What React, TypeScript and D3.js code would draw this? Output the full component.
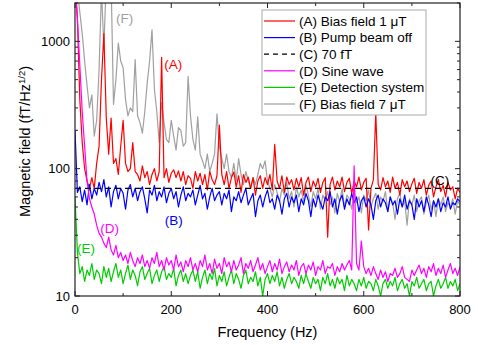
import React from 'react';
import * as d3 from 'd3';

// frequency grid (Hz), 5 Hz bins
const freqs = d3.range(0, 801, 5);

// (A) Bias field 1 uT
const seriesA = [
  3000, 1500, 350, 160, 100, 80, 70, 85, 70, 110, 150, 500, 1150, 250, 130, 250, 110, 120, 90, 150,
  240, 110, 95, 100, 160, 95, 90, 80, 105, 85, 95, 75, 90, 100, 80, 95, 750, 85, 100, 78,
  92, 98, 85, 96, 80, 95, 75, 88, 84, 70, 95, 80, 92, 75, 90, 68, 95, 82, 75, 88,
  220, 90, 75, 95, 70, 85, 94, 72, 88, 65, 90, 78, 86, 70, 85, 62, 80, 88, 70, 85,
  75, 90, 68, 155, 80, 70, 88, 65, 86, 75, 82, 68, 84, 72, 85, 62, 78, 86, 66, 80,
  72, 84, 65, 78, 85, 29, 75, 86, 68, 80, 72, 86, 66, 78, 84, 64, 80, 72, 86, 68,
  78, 84, 33, 70, 82, 275, 75, 68, 85, 72, 80, 65, 86, 70, 78, 62, 82, 72, 80, 66,
  76, 84, 64, 78, 70, 82, 62, 74, 80, 60, 72, 82, 66, 74, 60, 78, 68, 72, 58, 70,
  65,
];

// (B) Pump beam off
const seriesB = [
  200, 65, 72, 55, 68, 52, 75, 58, 70, 62, 78, 66, 82, 60, 72, 50, 66, 74, 58, 70,
  64, 48, 68, 75, 60, 70, 56, 66, 72, 58, 45, 68, 62, 74, 56, 66, 60, 72, 54, 64,
  70, 58, 66, 50, 62, 72, 56, 64, 60, 68, 52, 62, 74, 58, 64, 48, 60, 70, 56, 62,
  66, 52, 64, 58, 68, 46, 60, 56, 66, 54, 62, 70, 52, 58, 64, 42, 56, 62, 50, 60,
  68, 54, 58, 48, 62, 56, 44, 58, 64, 50, 60, 54, 62, 46, 58, 52, 64, 56, 42, 58,
  50, 62, 54, 48, 60, 56, 66, 50, 58, 44, 56, 62, 48, 58, 52, 64, 54, 60, 46, 56,
  60, 50, 58, 52, 40, 56, 62, 50, 58, 54, 46, 60, 52, 56, 44, 58, 50, 62, 48, 56,
  52, 40, 58, 50, 56, 46, 60, 52, 42, 56, 50, 58, 46, 54, 50, 60, 48, 54, 52, 58,
  55,
];

// (C) 70 fT reference level
const levelC = 70;

// (D) Sine wave
const seriesD = [
  3000, 1500, 650, 280, 150, 80, 58, 50, 44, 36, 31, 29, 26, 24, 29, 23, 21, 25, 20, 22,
  19, 21, 18, 22, 19, 17, 20, 18, 21, 17, 19, 16.5, 20, 18, 22, 17, 19, 16, 20, 17.5,
  19, 16, 21, 17, 18.5, 15.5, 19, 17, 20, 16, 18, 15.5, 19, 17, 21, 16, 18, 15, 19.5, 16.5,
  18, 15, 20, 17, 18.5, 15.5, 19, 16, 17.5, 20, 15, 18, 16.5, 19, 15.5, 17.5, 20, 16, 18, 15,
  17, 19, 15.5, 18, 16, 19.5, 15, 17, 18.5, 15.5, 17.5, 16, 19, 14.5, 17, 18, 15, 17.5, 16, 18.5,
  14.5, 17, 16, 19, 15, 17, 16.5, 18, 14.5, 17, 15.5, 18, 16, 17.5, 19, 16, 105, 18, 16, 27,
  17, 15, 16.5, 14.5, 17, 15, 13.5, 16, 14, 15.5, 13, 15, 14.5, 16.5, 14, 15, 17, 14, 13.5, 13,
  16, 14.5, 16, 17.5, 15, 16.5, 14, 17, 15.5, 18, 14.5, 16.5, 15, 17.5, 14, 16, 18, 15, 16.5, 14.5,
  17,
];

// (E) Detection system
const seriesE = [
  60, 22, 15, 17, 13, 16, 14.5, 18, 13.5, 16, 15, 12.5, 17, 14, 16.5, 13, 15.5, 18, 14, 16,
  12.5, 15, 17.5, 13.5, 16, 14.5, 12, 15.5, 17, 13.5, 15, 16.5, 12.5, 14.5, 16, 13, 15.5, 17, 13.5, 15,
  14, 16.5, 12, 14.5, 16, 13, 15, 12.5, 14.5, 16, 13, 15.5, 11.5, 14, 16, 12.5, 15, 13.5, 16.5, 12,
  14.5, 13, 15.5, 12, 14, 16, 12.5, 15, 13.5, 11.5, 14.5, 16, 12.5, 14, 13, 15.5, 12, 14, 10, 13.5,
  15, 12.5, 14.5, 13, 15.5, 12, 14, 11.5, 13.5, 15, 12.5, 14, 13, 11.5, 14.5, 12.5, 15, 13, 11.5, 14,
  12.5, 13.5, 11, 14, 12.5, 15, 12, 13.5, 11.5, 14, 12.5, 13.5, 11, 14.5, 12, 13.5, 12.5, 11, 13.5, 12,
  14, 11.5, 13, 12.5, 11, 13.5, 12, 10, 12.5, 13.5, 11.5, 13, 12, 14, 11, 12.5, 13.5, 11.5, 12.5, 10,
  13, 12, 14, 11.5, 12.5, 13.5, 11, 12.5, 13, 10, 12, 13.5, 11.5, 12.5, 14, 11.5, 13, 12, 13.5, 11,
  12.5,
];

// (F) Bias field 7 uT
const seriesF = [
  3000, 2500, 1700, 1150, 700, 450, 300, 380, 180, 240, 600, 2500, 900, 3000, 2500, 3000, 320, 500, 970, 700,
  620, 350, 260, 300, 280, 720, 260, 230, 190, 280, 470, 700, 1230, 420, 280, 160, 330, 230, 170, 160,
  240, 180, 140, 210, 200, 150, 160, 530, 260, 170, 140, 255, 130, 115, 100, 130, 95, 110, 130, 270,
  150, 120, 100, 130, 95, 85, 110, 80, 120, 90, 75, 95, 80, 70, 85, 75, 90, 110, 100, 115,
  80, 70, 60, 75, 65, 55, 70, 62, 78, 58, 66, 50, 72, 60, 68, 55, 74, 62, 50, 66,
  58, 70, 48, 62, 56, 66, 52, 60, 45, 64, 55, 70, 50, 62, 58, 48, 66, 54, 60, 45,
  62, 56, 68, 50, 58, 64, 48, 60, 55, 66, 46, 60, 54, 40, 58, 64, 50, 56, 36, 58,
  52, 62, 46, 56, 60, 44, 54, 62, 48, 56, 42, 58, 52, 60, 46, 54, 50, 58, 44, 56,
  52,
];

const xTicks = [0, 200, 400, 600, 800];
const xMinorTicks = [100, 300, 500, 700];
const yTicks = [10, 100, 1000];

const legendLabels = [
  '(A) Bias field 1 \u03bcT',
  '(B) Pump beam off',
  '(C) 70 fT',
  '(D) Sine wave',
  '(E) Detection system',
  '(F) Bias field 7  \u03bcT',
];
const colors = ['#ff0000', '#0000ff', '#000000', '#ff00ff', '#00cc00', '#a0a0a0'];

const W = 478;
const H = 345;
const margin = { top: 3, right: 18, bottom: 49, left: 75 };
const font = 'Liberation Sans, Arial, sans-serif';

const App: React.FC = () => {
  const x = d3.scaleLinear().domain([0, 800]).range([margin.left, W - margin.right]);
  const y = d3.scaleLog().domain([10, 2000]).range([H - margin.bottom, margin.top]);
  const x0 = x.range()[0], x1 = x.range()[1];
  const y0 = y.range()[0], y1 = y.range()[1];

  const line = d3.line<number>()
    .x((_, i) => x(freqs[i]))
    .y(d => y(d));

  const yMinor = y.ticks().filter(t => !yTicks.includes(t));

  // draw order: F under A under B, then E, D, dashed level on top
  const drawn = [
    { data: seriesF, color: colors[5] },
    { data: seriesA, color: colors[0] },
    { data: seriesB, color: colors[1] },
    { data: seriesE, color: colors[4] },
    { data: seriesD, color: colors[3] },
  ];

  // label anchors in data units (frequency, field)
  const annotations = [
    { t: '(F)', f: 103, v: 1400, c: colors[5] },
    { t: '(A)', f: 204, v: 608, c: colors[0] },
    { t: '(B)', f: 205, v: 36, c: colors[1] },
    { t: '(D)', f: 72, v: 31, c: colors[3] },
    { t: '(E)', f: 23, v: 21.8, c: colors[4] },
    { t: '(C)', f: 758, v: 74.6, c: colors[2] },
  ];

  const lgX = 262, lgY = 10, rowH = 16.6;

  return (
    <svg width={W} height={H} style={{ position: 'absolute', left: 0, top: 0, background: '#fff' }}
      fontFamily={font}>
      <defs>
        <clipPath id="plot">
          <rect x={x0} y={y1} width={x1 - x0} height={y0 - y1} />
        </clipPath>
      </defs>

      <g clipPath="url(#plot)" fill="none" strokeWidth={1.2} strokeLinejoin="round">
        {drawn.map((s, i) => (
          <path key={i} d={line(s.data) || ''} stroke={s.color} />
        ))}
        <line x1={x0} x2={x1} y1={y(levelC)} y2={y(levelC)} stroke="#000" strokeWidth={1.1}
          strokeDasharray="6,4" />
      </g>

      {/* frame */}
      <rect x={x0} y={y1} width={x1 - x0} height={y0 - y1} fill="none" stroke="#222" strokeWidth={1.2} />

      {/* x ticks, inward on bottom and top */}
      {xTicks.map(t => (
        <g key={'xt' + t}>
          <line x1={x(t)} x2={x(t)} y1={y0} y2={y0 - 5} stroke="#222" />
          <line x1={x(t)} x2={x(t)} y1={y1} y2={y1 + 5} stroke="#222" />
          <text x={x(t)} y={y0 + 18} fontSize={13} textAnchor="middle">{t}</text>
        </g>
      ))}
      {xMinorTicks.map(t => (
        <g key={'xm' + t}>
          <line x1={x(t)} x2={x(t)} y1={y0} y2={y0 - 3} stroke="#222" />
          <line x1={x(t)} x2={x(t)} y1={y1} y2={y1 + 3} stroke="#222" />
        </g>
      ))}

      {/* y ticks, inward on left and right */}
      {yTicks.map(t => (
        <g key={'yt' + t}>
          <line x1={x0} x2={x0 + 5} y1={y(t)} y2={y(t)} stroke="#222" />
          <line x1={x1} x2={x1 - 5} y1={y(t)} y2={y(t)} stroke="#222" />
          <text x={x0 - 5} y={y(t) + 4.5} fontSize={13} textAnchor="end">{t}</text>
        </g>
      ))}
      {yMinor.map(t => (
        <g key={'ym' + t}>
          <line x1={x0} x2={x0 + 3} y1={y(t)} y2={y(t)} stroke="#222" />
          <line x1={x1} x2={x1 - 3} y1={y(t)} y2={y(t)} stroke="#222" />
        </g>
      ))}

      {/* axis titles */}
      <text x={(x0 + x1) / 2} y={337} fontSize={14.5} textAnchor="middle">Frequency (Hz)</text>
      <text transform={`translate(30,${(y0 + y1) / 2 - 8}) rotate(-90)`} fontSize={14.5} textAnchor="middle">
        Magnetic field (fT/Hz<tspan dy={-5} fontSize={9.5}>1/2</tspan><tspan dy={5}>)</tspan>
      </text>

      {/* in-plot labels */}
      {annotations.map(a => (
        <text key={a.t} x={x(a.f)} y={y(a.v)} fontSize={13.5} fill={a.c} textAnchor="middle">{a.t}</text>
      ))}

      {/* legend */}
      <rect x={lgX} y={lgY} width={164} height={105} fill="#fff" stroke="#aaa" strokeWidth={1} />
      {legendLabels.map((lab, i) => {
        const cy = lgY + 11 + i * rowH;
        return (
          <g key={lab}>
            <line x1={lgX + 2} x2={lgX + 33} y1={cy} y2={cy} stroke={colors[i]} strokeWidth={1.2}
              strokeDasharray={i === 2 ? '5,4' : undefined} />
            <text x={lgX + 37} y={cy + 4.8} fontSize={13.5}>{lab}</text>
          </g>
        );
      })}
    </svg>
  );
};

export default App;
